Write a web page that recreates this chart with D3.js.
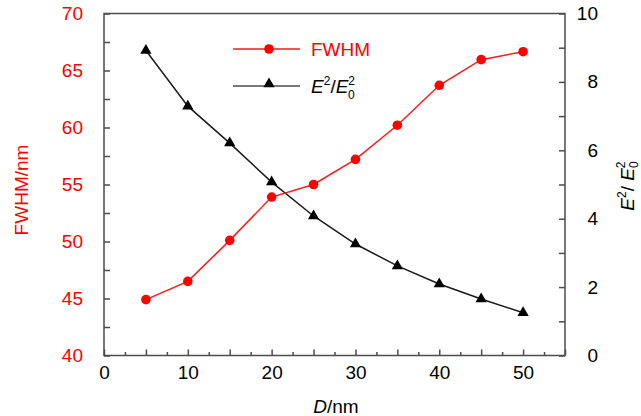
<!DOCTYPE html>
<html>
<head>
<meta charset="utf-8">
<script src="https://cdn.jsdelivr.net/npm/d3@7"></script>
<style>
  body { margin: 0; background: #fff; }
  svg text { font-family: Arial, "Liberation Sans", sans-serif; }
</style>
</head>
<body>
<div id="chart"></div>
<script>
// data
var diameters = [5, 10, 15, 20, 25, 30, 35, 40, 45, 50];
var fwhm = [44.9, 46.5, 50.1, 53.9, 55.0, 57.2, 60.2, 63.7, 65.95, 66.65];
var enhancement = [8.92, 7.29, 6.21, 5.07, 4.08, 3.26, 2.62, 2.09, 1.65, 1.25];
var xTicks = [0, 10, 20, 30, 40, 50];
var leftTicks = [40, 45, 50, 55, 60, 65, 70];
var rightTicks = [0, 2, 4, 6, 8, 10];

const width = 641;
const height = 416;
const plotLeft = 104, plotRight = 565, plotTop = 13.5, plotBottom = 355.5;
const axisColor = "#4d4d4d";

const svg = d3.select("#chart").append("svg")
  .attr("width", width)
  .attr("height", height);

//SCALES
const xScale = d3.scaleLinear().domain([0, 55]).range([plotLeft, plotRight]);
const yLeft = d3.scaleLinear().domain([40, 70]).range([plotBottom, plotTop]);
const yRight = d3.scaleLinear().domain([0, 10]).range([plotBottom, plotTop]);

//AXES - ticks point inward, minor ticks between majors
function styleAxis(g) {
  g.selectAll(".domain").remove();
  g.selectAll("line").attr("stroke", axisColor).attr("stroke-width", 1.5);
  g.selectAll("text").style("font-size", "19px");
}

svg.append("g")
  .attr("transform", "translate(0," + plotBottom + ")")
  .call(d3.axisTop(xScale).tickValues(d3.range(0, 56, 2.5)).tickSize(6).tickFormat(""))
  .call(styleAxis)
  .selectAll(".tick line")
  .attr("y2", (d) => (d % 5 === 0 ? -6 : -3.5));

svg.append("g")
  .attr("transform", "translate(0," + plotBottom + ")")
  .call(d3.axisBottom(xScale).tickValues(xTicks).tickSize(0).tickPadding(10))
  .call(styleAxis)
  .selectAll("text").attr("fill", "#000");

svg.append("g")
  .attr("transform", "translate(" + plotLeft + ",0)")
  .call(d3.axisRight(yLeft).tickValues(d3.range(40, 71, 2.5)).tickSize(6).tickFormat(""))
  .call(styleAxis);

svg.append("g")
  .attr("transform", "translate(" + plotLeft + ",0)")
  .call(d3.axisLeft(yLeft).tickValues(leftTicks).tickSize(0).tickPadding(21))
  .call(styleAxis)
  .selectAll("text").attr("fill", "#ff0000");

svg.append("g")
  .attr("transform", "translate(" + plotRight + ",0)")
  .call(d3.axisLeft(yRight).tickValues(d3.range(0, 11, 1)).tickSize(6).tickFormat(""))
  .call(styleAxis);

svg.append("g")
  .attr("transform", "translate(" + plotRight + ",0)")
  .call(d3.axisRight(yRight).tickValues(rightTicks).tickSize(0).tickPadding(12))
  .call(styleAxis)
  .selectAll("text").attr("fill", "#000")
  .attr("text-anchor", "end")
  .attr("x", 598 - plotRight);

// frame
svg.append("rect")
  .attr("x", plotLeft).attr("y", plotTop)
  .attr("width", plotRight - plotLeft).attr("height", plotBottom - plotTop)
  .attr("fill", "none")
  .attr("stroke", axisColor)
  .attr("stroke-width", 1.5);

//LINES
const fwhmLine = d3.line()
  .x((d, i) => xScale(diameters[i]))
  .y((d) => yLeft(d));
const enhLine = d3.line()
  .x((d, i) => xScale(diameters[i]))
  .y((d) => yRight(d));

svg.append("path")
  .attr("d", enhLine(enhancement))
  .attr("fill", "none")
  .attr("stroke", "#1a1a1a")
  .attr("stroke-width", 1.5);

svg.append("path")
  .attr("d", fwhmLine(fwhm))
  .attr("fill", "none")
  .attr("stroke", "#ff1a1a")
  .attr("stroke-width", 1.5);

const triangle = d3.symbol().type(d3.symbolTriangle).size(55);

svg.selectAll(".tri")
  .data(enhancement)
  .enter()
  .append("path")
  .attr("class", "tri")
  .attr("d", triangle)
  .attr("transform", (d, i) => "translate(" + xScale(diameters[i]) + "," + yRight(d) + ")")
  .attr("fill", "#000");

svg.selectAll(".dot")
  .data(fwhm)
  .enter()
  .append("circle")
  .attr("class", "dot")
  .attr("cx", (d, i) => xScale(diameters[i]))
  .attr("cy", (d) => yLeft(d))
  .attr("r", 4.8)
  .attr("fill", "#ff0000");

//LEGEND
svg.append("line")
  .attr("x1", 233).attr("x2", 300).attr("y1", 49).attr("y2", 49)
  .attr("stroke", "#ff1a1a").attr("stroke-width", 1.5);
svg.append("circle")
  .attr("cx", 269).attr("cy", 49).attr("r", 4.8).attr("fill", "#ff0000");
svg.append("text")
  .attr("x", 311).attr("y", 56)
  .attr("fill", "#ff0000")
  .style("font-size", "19px")
  .text("FWHM");

svg.append("line")
  .attr("x1", 233).attr("x2", 300).attr("y1", 86).attr("y2", 86)
  .attr("stroke", "#4d4d4d").attr("stroke-width", 1.5);
svg.append("path")
  .attr("d", triangle)
  .attr("transform", "translate(269,84)")
  .attr("fill", "#000");
const legText = svg.append("text")
  .attr("x", 311).attr("y", 93)
  .style("font-size", "19px")
  .attr("fill", "#000");
legText.append("tspan").style("font-style", "italic").text("E");
legText.append("tspan").attr("dy", -8).style("font-size", "12px").text("2");
legText.append("tspan").attr("dy", 8).text("/");
legText.append("tspan").style("font-style", "italic").text("E");
legText.append("tspan").attr("dy", -8).style("font-size", "12px").text("2");
legText.append("tspan").attr("dy", 14).attr("dx", -7).style("font-size", "12px").text("0");

//AXIS TITLES
svg.append("text")
  .attr("transform", "translate(28,190) rotate(-90)")
  .attr("text-anchor", "middle")
  .attr("fill", "#ff0000")
  .style("font-size", "19px")
  .text("FWHM/nm");

const rTitle = svg.append("text")
  .attr("transform", "translate(634,186) rotate(-90)")
  .attr("text-anchor", "middle")
  .attr("fill", "#000")
  .style("font-size", "19px");
rTitle.append("tspan").style("font-style", "italic").text("E");
rTitle.append("tspan").attr("dy", -8).style("font-size", "12px").text("2");
rTitle.append("tspan").attr("dy", 8).text("/ ");
rTitle.append("tspan").style("font-style", "italic").text("E");
rTitle.append("tspan").attr("dy", 4).style("font-size", "12px").text("0");
rTitle.append("tspan").attr("dy", -13).attr("dx", -7).style("font-size", "12px").text("2");

const xTitle = svg.append("text")
  .attr("x", 336).attr("y", 413)
  .attr("text-anchor", "middle")
  .attr("fill", "#000")
  .style("font-size", "19px");
xTitle.append("tspan").style("font-style", "italic").text("D");
xTitle.append("tspan").text("/nm");
</script>
</body>
</html>
